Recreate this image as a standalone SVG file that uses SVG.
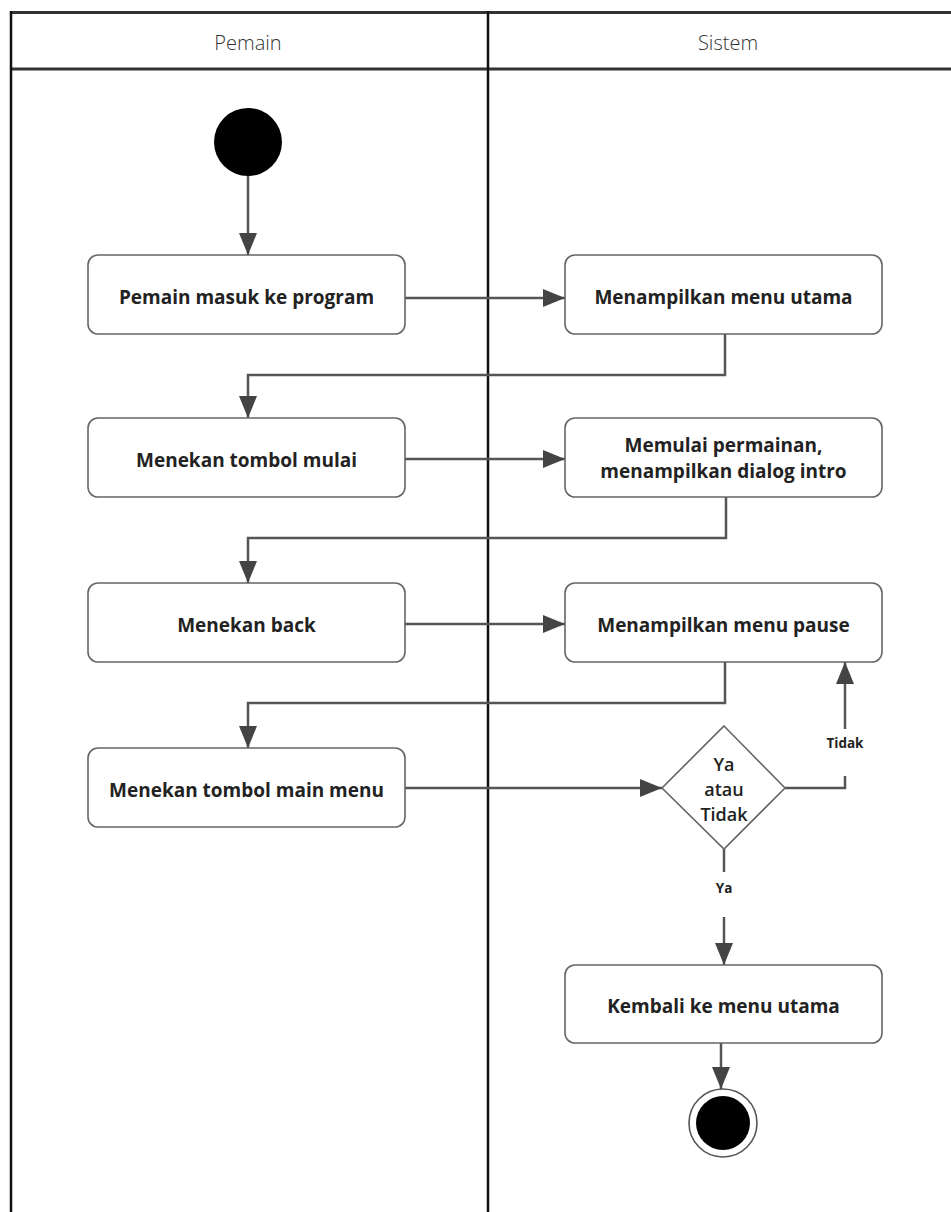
<svg xmlns="http://www.w3.org/2000/svg" width="951" height="1212" viewBox="0 0 951 1212">
  <style>
    .lane { stroke: #111; stroke-width: 2.5; fill: none; }
    .lanehead { stroke: #333; stroke-width: 3; fill: none; }
    .title { font-family: "Open Sans", "Noto Sans", sans-serif; font-size: 20px; font-weight: 300; fill: #333; text-anchor: middle; }
    .box { fill: #fff; stroke: #666; stroke-width: 1.6; }
    .label { font-family: "Open Sans", "Noto Sans", sans-serif; font-size: 19px; font-weight: 700; fill: #222; text-anchor: middle; }
    .dlabel { font-family: "Open Sans", "Noto Sans", sans-serif; font-size: 18px; font-weight: 600; fill: #222; text-anchor: middle; }
    .edge { fill: none; stroke: #555; stroke-width: 2.5; }
    .elabel { font-family: "Open Sans", "Noto Sans", sans-serif; font-size: 13.5px; font-weight: 700; fill: #222; text-anchor: middle; }
  </style>
  <defs>
    <marker id="arrow" markerUnits="userSpaceOnUse" markerWidth="22" markerHeight="18" refX="22" refY="9" orient="auto">
      <path d="M0,0 L22,9 L0,18 z" fill="#444"/>
    </marker>
  </defs>

  <rect width="951" height="1212" fill="#fff"/>

  <!-- swimlanes -->
  <g id="lanes">
    <line class="lanehead" x1="10" y1="12.5" x2="951" y2="12.5"/>
    <line class="lanehead" x1="10" y1="69" x2="951" y2="69"/>
    <line class="lane" x1="11" y1="11" x2="11" y2="1212"/>
    <line class="lane" x1="488" y1="11" x2="488" y2="1212"/>
    <text class="title" x="248" y="50">Pemain</text>
    <text class="title" x="728" y="50">Sistem</text>
  </g>

  <!-- connectors -->
  <g id="connectors">
    <path class="edge" d="M248,176 L248,255" marker-end="url(#arrow)"/>
    <path class="edge" d="M405,298 L565,298" marker-end="url(#arrow)"/>
    <path class="edge" d="M725,334 L725,375 L248,375 L248,418" marker-end="url(#arrow)"/>
    <path class="edge" d="M405,459 L565,459" marker-end="url(#arrow)"/>
    <path class="edge" d="M726,497 L726,538 L248,538 L248,583" marker-end="url(#arrow)"/>
    <path class="edge" d="M405,624 L565,624" marker-end="url(#arrow)"/>
    <path class="edge" d="M725,662 L725,703 L248,703 L248,748" marker-end="url(#arrow)"/>
    <path class="edge" d="M405,788 L662,788" marker-end="url(#arrow)"/>
    <path class="edge" d="M785,788 L845,788 L845,776"/>
    <text class="elabel" x="845" y="748">Tidak</text>
    <path class="edge" d="M845,729 L845,662" marker-end="url(#arrow)"/>
    <path class="edge" d="M724,849 L724,872"/>
    <text class="elabel" x="724" y="893">Ya</text>
    <path class="edge" d="M724,917 L724,965" marker-end="url(#arrow)"/>
    <path class="edge" d="M721,1043 L721,1089" marker-end="url(#arrow)"/>
  </g>

  <!-- nodes -->
  <g id="start">
    <circle cx="248" cy="142" r="34" fill="#000"/>
  </g>

  <g id="masuk-program">
    <rect class="box" x="88" y="255" width="317" height="79" rx="10"/>
    <text class="label" x="246.5" y="304">Pemain masuk ke program</text>
  </g>

  <g id="menu-utama">
    <rect class="box" x="565" y="255" width="317" height="79" rx="10"/>
    <text class="label" x="723.5" y="304">Menampilkan menu utama</text>
  </g>

  <g id="tombol-mulai">
    <rect class="box" x="88" y="418" width="317" height="79" rx="10"/>
    <text class="label" x="246.5" y="467">Menekan tombol mulai</text>
  </g>

  <g id="mulai-permainan">
    <rect class="box" x="565" y="418" width="317" height="79" rx="10"/>
    <text class="label" x="723.5" y="452">Memulai permainan,</text>
    <text class="label" x="723.5" y="478">menampilkan dialog intro</text>
  </g>

  <g id="menekan-back">
    <rect class="box" x="88" y="583" width="317" height="79" rx="10"/>
    <text class="label" x="246.5" y="632">Menekan back</text>
  </g>

  <g id="menu-pause">
    <rect class="box" x="565" y="583" width="317" height="79" rx="10"/>
    <text class="label" x="723.5" y="632">Menampilkan menu pause</text>
  </g>

  <g id="tombol-main-menu">
    <rect class="box" x="88" y="748" width="317" height="79" rx="10"/>
    <text class="label" x="246.5" y="797">Menekan tombol main menu</text>
  </g>

  <g id="keputusan">
    <polygon class="box" points="724,726 785,788 724,849 662,788"/>
    <text class="dlabel" x="724" y="771">Ya</text>
    <text class="dlabel" x="724" y="796">atau</text>
    <text class="dlabel" x="724" y="821">Tidak</text>
  </g>

  <g id="kembali-menu-utama">
    <rect class="box" x="565" y="965" width="317" height="78" rx="10"/>
    <text class="label" x="723.5" y="1013">Kembali ke menu utama</text>
  </g>

  <g id="end">
    <circle cx="723" cy="1123" r="34" fill="#fff" stroke="#555" stroke-width="1.6"/>
    <circle cx="723" cy="1123" r="27" fill="#000"/>
  </g>
</svg>
